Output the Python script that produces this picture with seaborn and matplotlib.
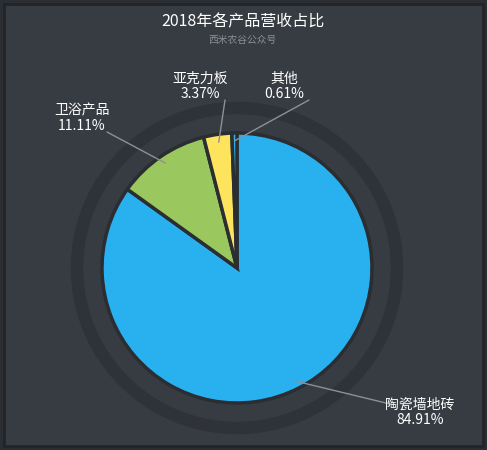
import numpy as np
import matplotlib.pyplot as plt
import seaborn as sns
from matplotlib.patches import Circle

sns.set_style("dark")
plt.rcParams['font.family'] = ['Noto Sans CJK SC', 'DejaVu Sans']

# 数据
categories = ['陶瓷墙地砖', '卫浴产品', '亚克力板', '其他']
shares = [84.91, 11.11, 3.37, 0.61]
colors = ['#29b1ef', '#9bc85e', '#fde45c', '#29b1ef']
explode = [0.0, 0.04, 0.06, 0.17]

# 标签位置（像素，自上而下）
label_pos = [(420, 412), (82, 118), (200, 86), (284, 86)]
H = 450

fig = plt.figure(figsize=(4.87, 4.5), dpi=100)
fig.patch.set_facecolor('#2a2d31')
ax = fig.add_axes([0, 0, 1, 1])
ax.set_facecolor('#363b41')
ax.axis('off')
ax.add_patch(plt.Rectangle((4, 4), 479, 442, facecolor='#373c42',
                           edgecolor='#222428', lw=2))

cx, cy, r = 237, H - 268, 135
ax.add_patch(Circle((cx, cy), 160, fill=False, edgecolor='#2f3338', lw=9))

wedges, _ = ax.pie(shares, colors=colors, explode=explode, startangle=90,
                   counterclock=False, radius=r, center=(cx, cy), frame=True,
                   wedgeprops=dict(edgecolor='#2a2d31', linewidth=2.5))
ax.set_xlim(0, 487)
ax.set_ylim(0, H)
ax.set_aspect('equal')
ax.axis('off')

for w, name, val, (lx, ly) in zip(wedges, categories, shares, label_pos):
    mid = np.deg2rad((w.theta1 + w.theta2) / 2)
    wx, wy = w.center
    px = wx + (r - 8) * np.cos(mid)
    py = wy + (r - 8) * np.sin(mid)
    if name == '陶瓷墙地砖':
        ex, ey = lx - 30, H - ly + 8
    else:
        ex, ey = lx + 25, H - ly - 14
    ax.plot([px, ex], [py, ey], color='#8c9196', lw=1)
    ax.text(lx, H - ly, f'{name}\n{val:.2f}%', color='white', fontsize=10,
            ha='center', va='center', linespacing=1.1)

ax.text(243, H - 22, '2018年各产品营收占比', color='white', fontsize=11.5,
        ha='center', va='center')
ax.text(243, H - 40, '西米农谷公众号', color='#8a8f94', fontsize=7,
        ha='center', va='center')

fig.savefig('out.png', dpi=100, facecolor=fig.get_facecolor())
